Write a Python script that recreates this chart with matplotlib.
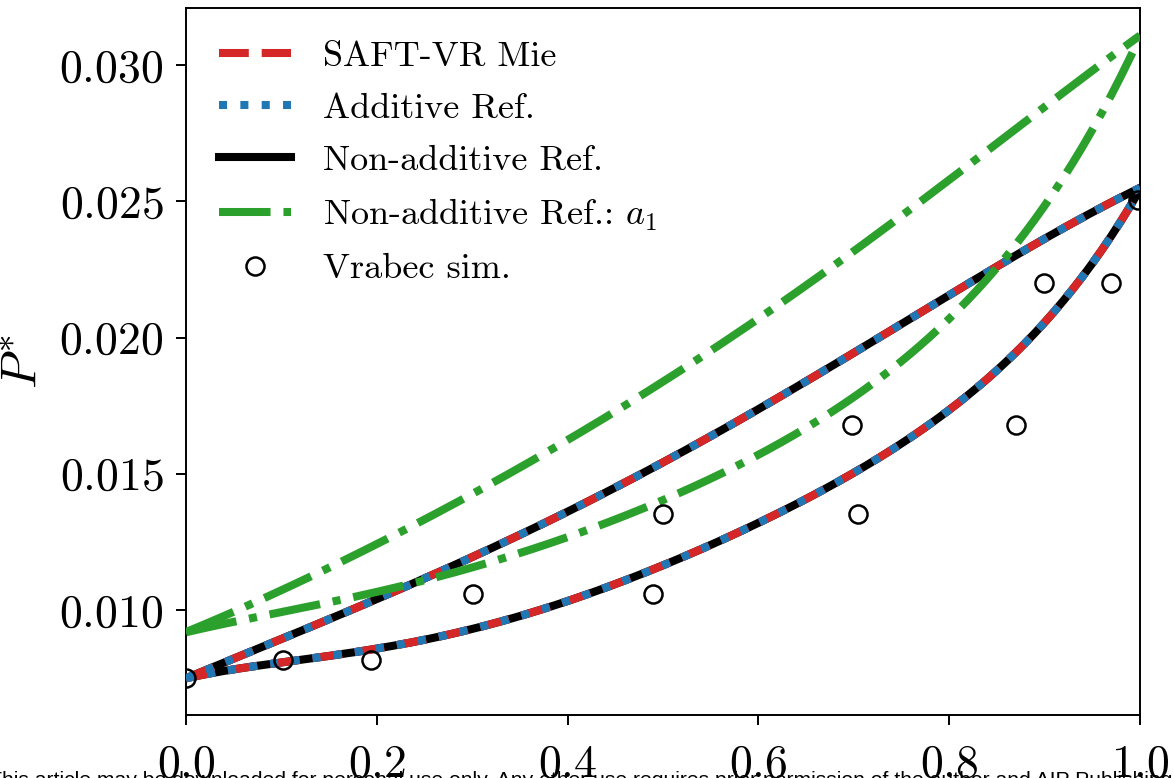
import matplotlib
matplotlib.use("Agg")
import numpy as np
import matplotlib.pyplot as plt

plt.rcParams['font.family'] = 'serif'
plt.rcParams['font.serif'] = ['cmr10']
plt.rcParams['mathtext.fontset'] = 'cm'
plt.rcParams['axes.formatter.use_mathtext'] = True

# composicao vs pressao reduzida
x_bolha = [0.0, 0.105, 0.21, 0.314, 0.419, 0.602, 0.811, 1.0]
p_bolha = [0.0075, 0.0090, 0.0106, 0.0121, 0.0140, 0.0174, 0.0218, 0.0255]

x_orvalho = [0.0, 0.105, 0.21, 0.314, 0.419, 0.497, 0.602, 0.707, 0.811, 0.9, 0.95, 1.0]
p_orvalho = [0.0075, 0.0081, 0.00864, 0.0094, 0.0107, 0.0115, 0.0132, 0.0152, 0.0177, 0.0206, 0.0226, 0.0255]

x_a1_bolha = [0.0, 0.08, 0.1625, 0.241, 0.318, 0.397, 0.473, 0.547, 0.621, 0.688, 0.801, 0.906, 1.0]
p_a1_bolha = [0.0092, 0.0104, 0.01176, 0.0132, 0.01458, 0.0162, 0.01777, 0.01945, 0.02125, 0.02282, 0.02586, 0.02861, 0.0311]

x_a1_orvalho = [0.0, 0.052, 0.14, 0.226, 0.311, 0.397, 0.479, 0.563, 0.641, 0.715, 0.782, 0.846, 0.899, 0.949, 1.0]
p_a1_orvalho = [0.0092, 0.00956, 0.01022, 0.01088, 0.01168, 0.01267, 0.01374, 0.01498, 0.01652, 0.01817, 0.02018, 0.02238, 0.02484, 0.02747, 0.0311]

x_sim = [0.0, 0.102, 0.194, 0.301, 0.49, 0.5, 0.698, 0.704, 0.87, 0.899, 0.97, 0.998]
p_sim = [0.0075, 0.00817, 0.00817, 0.01059, 0.01059, 0.01352, 0.01678, 0.01352, 0.01678, 0.02201, 0.02201, 0.02506]


def suave(xs, ys, n=200):
    xs = np.array(xs)
    ys = np.array(ys)
    xn = np.linspace(xs[0], xs[-1], n)
    # ajuste polinomial para alisar a curva
    c = np.polyfit(xs, ys, min(5, len(xs) - 1))
    return xn, np.polyval(c, xn)


fig = plt.figure(figsize=(11.73, 7.78), dpi=100)
ax = fig.add_axes([0.1586, 0.081, 0.8133, 0.9087])

lw = 5.8
curvas = [(x_bolha, p_bolha), (x_orvalho, p_orvalho)]
for i, (xs, ys) in enumerate(curvas):
    xn, yn = suave(xs, ys)
    ax.plot(xn, yn, color="black", lw=lw, ls="-", zorder=2,
            label="Non-additive Ref." if i == 0 else None)
    ax.plot(xn, yn, color="tab:red", lw=lw, ls="--", zorder=3,
            label="SAFT-VR Mie" if i == 0 else None)
    ax.plot(xn, yn, color="tab:blue", lw=lw, ls=":", zorder=4,
            label="Additive Ref." if i == 0 else None)

for i, (xs, ys) in enumerate([(x_a1_bolha, p_a1_bolha), (x_a1_orvalho, p_a1_orvalho)]):
    xn, yn = suave(xs, ys)
    ax.plot(xn, yn, color="tab:green", lw=lw, ls="-.", zorder=5,
            label=r"Non-additive Ref.: $a_1$" if i == 0 else None)

ax.plot(x_sim, p_sim, ls="none", marker="o", ms=13, mfc="none", mec="black",
        mew=1.8, zorder=6, label="Vrabec sim.")

ax.set_xlim(0, 1)
ax.set_ylim(0.00615, 0.0321)
ax.set_xticks([0.0, 0.2, 0.4, 0.6, 0.8, 1.0])
ax.set_yticks([0.010, 0.015, 0.020, 0.025, 0.030])
ax.tick_params(labelsize=33, length=7, width=1.4)
ax.tick_params(axis="x", pad=14)
ax.tick_params(axis="y", pad=9)
for s in ax.spines.values():
    s.set_linewidth(1.4)
ax.set_ylabel(r"$P^{*}$", fontsize=36, labelpad=10)

h, l = ax.get_legend_handles_labels()
ordem = ["SAFT-VR Mie", "Additive Ref.", "Non-additive Ref.", r"Non-additive Ref.: $a_1$", "Vrabec sim."]
hs = [h[l.index(o)] for o in ordem]
ax.legend(hs, ordem, loc="upper left", frameon=False, fontsize=26,
          handlelength=2.0, handletextpad=0.9, labelspacing=0.55)

fig.text(-0.009, 0.009, "This article may be downloaded for personal use only. Any other use requires prior "
         "permission of the author and AIP Publishing.", fontsize=15.2,
         family="Liberation Sans", va="top", ha="left")

fig.savefig("out.png", dpi=100)
